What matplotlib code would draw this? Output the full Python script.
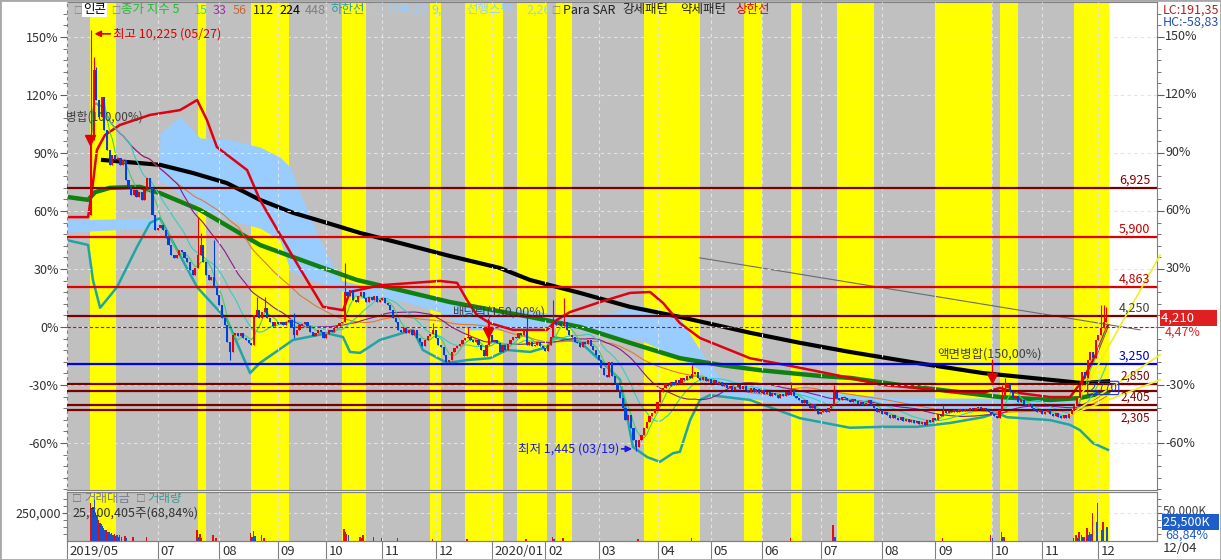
import matplotlib
matplotlib.use('Agg')
import matplotlib.pyplot as plt
import matplotlib.transforms as mtransforms
from matplotlib.patches import Rectangle
import numpy as np
import pandas as pd

plt.rcParams['font.family'] = ['Noto Sans CJK KR', 'DejaVu Sans']
plt.rcParams['axes.unicode_minus'] = False

# price that sits at 0% on the axis
BASE = 4030

# daily closes (won), trading-day index 9 .. 389
first_idx = 9
first_open = 6360
close = [
    7930, 9390, 8760, 8410, 8820, 8140, 7720, 7410, 7620, 7510,
    7550, 7410, 7510, 7100, 6950, 6780, 6890, 6740, 6840, 6680,
    6890, 7140, 6930, 6360, 6050, 6090, 6160, 6050, 5890, 5740,
    5530, 5470, 5530, 5630, 5590, 5470, 5390, 5220, 5110, 5260,
    5530, 5740, 5390, 5110, 5010, 5070, 4880, 4700, 4490, 4220,
    4070, 3720, 3510, 3860, 3900, 3840, 3900, 3800, 3760, 3700,
    3660, 4280, 4390, 4220, 4340, 4430, 4220, 4140, 4050, 4140,
    4090, 4140, 4070, 4140, 4180, 4030, 3860, 3970, 4070, 4090,
    4140, 4050, 3930, 3840, 3900, 3970, 3930, 3800, 3880, 3970,
    3930, 4010, 4050, 4110, 4140, 4760, 4680, 4800, 4590, 4550,
    4680, 4760, 4640, 4550, 4660, 4590, 4680, 4550, 4590, 4640,
    4530, 4490, 4390, 4220, 4140, 3970, 3930, 4010, 3900, 3970,
    3860, 3970, 3800, 3720, 3640, 3760, 3840, 3880, 3970, 3800,
    3660, 3620, 3450, 3300, 3340, 3510, 3590, 3640, 3680, 3760,
    3800, 3820, 3760, 3720, 3760, 3660, 3550, 3430, 3660, 3860,
    3720, 3760, 3700, 3510, 3660, 3550, 3680, 3760, 3820, 3800,
    3900, 3860, 3950, 3660, 3720, 3640, 3660, 3720, 3640, 3590,
    3530, 3660, 3820, 4140, 4070, 4110, 4050, 4140, 3970, 3860,
    3820, 3720, 3700, 3620, 3720, 3680, 3760, 3640, 3550, 3450,
    3340, 3180, 3030, 2990, 3300, 3010, 2870, 2720, 2550, 2340,
    2090, 2200, 1930, 1680, 1530, 1680, 1780, 1930, 2050, 2180,
    2240, 2300, 2470, 2680, 2760, 2840, 2800, 2880, 2820, 2930,
    2840, 2970, 2930, 3010, 2970, 3050, 3090, 2970, 2930, 2990,
    2900, 2950, 2870, 2930, 2840, 2880, 2800, 2840, 2760, 2800,
    2720, 2780, 2820, 2740, 2800, 2720, 2680, 2760, 2680, 2740,
    2660, 2720, 2640, 2680, 2590, 2660, 2620, 2550, 2640, 2590,
    2680, 2620, 2720, 2590, 2550, 2510, 2450, 2510, 2400, 2340,
    2430, 2300, 2220, 2260, 2300, 2260, 2340, 2400, 2680, 2550,
    2510, 2570, 2550, 2510, 2470, 2530, 2490, 2430, 2470, 2400,
    2450, 2510, 2400, 2340, 2260, 2300, 2220, 2260, 2200, 2140,
    2200, 2140, 2090, 2160, 2080, 2120, 2050, 2090, 2030, 2080,
    2010, 2050, 1990, 2090, 2050, 2140, 2090, 2220, 2180, 2280,
    2240, 2280, 2260, 2300, 2260, 2320, 2280, 2320, 2300, 2340,
    2300, 2340, 2360, 2320, 2340, 2300, 2260, 2220, 2180, 2140,
    2300, 2610, 2760, 2840, 2680, 2550, 2590, 2470, 2510, 2430,
    2390, 2430, 2340, 2300, 2260, 2300, 2220, 2260, 2300, 2220,
    2180, 2240, 2160, 2140, 2200, 2140, 2220, 2300, 2400, 2550,
    2820, 3090, 2970, 3340, 3510, 3390, 3760, 3860, 4010, 4140, 4210,
]
# notable wicks
wick_high = {9: 10225, 10: 9660, 11: 9450, 49: 6320, 50: 5990, 55: 5840, 71: 4650,
             74: 4650, 85: 4320, 104: 5360, 137: 4110, 150: 4030, 158: 4180, 172: 4240,
             182: 4590, 186: 4630, 234: 3240, 271: 2880, 287: 2820, 328: 2400,
             350: 2820, 351: 2970, 387: 4490, 388: 4490, 389: 4450}
wick_low = {61: 3340, 213: 1445, 85: 3800}

# indicator lines (trading-day index, won)
upper_x = [0, 7.9, 9.4, 11.2, 14.2, 19.8, 31.1, 42.3, 48.7, 52.4, 56.1, 67.4, 72.2, 84.6, 95.8,
           103.3, 105.9, 117.1, 139.6, 146, 149.7, 153.4, 158.3, 166.9, 179.6, 183.4, 188.2,
           199.5, 210.7, 218.2, 223.1, 229.4, 236.9, 255.6, 274.3, 293, 305.4, 318.1, 330.5,
           342.8, 349.2, 355.5, 367.9, 375.4, 380.2, 385.4, 389.6]
upper_y = [6320, 6320, 6890, 7720, 8030, 8240, 8450, 8550, 8760, 8340, 7780, 7300, 6680, 5490,
           4450, 4380, 4760, 4900, 4990, 4950, 4590, 4280, 4110, 3970, 3970, 4180, 4340, 4550,
           4740, 4760, 4530, 4110, 3800, 3380, 3180, 2970, 2820, 2760, 2680, 2660, 2760, 2660,
           2570, 2570, 2930, 3490, 4070]
lower_x = [0, 7.9, 9.7, 12.4, 18.7, 26.2, 31.1, 34.8, 48.7, 59.9, 68.5, 72.2, 84.6, 97.3, 103.3,
           105.9, 109.7, 117.1, 129.5, 133.2, 142.2, 149.7, 158.3, 164.7, 173.3, 179.6, 181.9,
           192, 202.1, 207, 211.8, 217.1, 221.9, 226.8, 229.4, 233.2, 236.9, 240.6, 255.6,
           274.3, 293, 305.4, 318.1, 330.5, 342.8, 348, 351.8, 367.9, 375.4, 379.1, 384, 389.6]
lower_y = [5840, 5740, 5010, 4430, 4860, 5700, 6200, 6300, 4860, 4180, 3070, 3280, 3760, 3900,
           3820, 3510, 3490, 3760, 3970, 3550, 3280, 3340, 3380, 3550, 3510, 3610, 3820, 3720,
           3200, 2930, 1530, 1320, 1220, 1400, 1430, 2090, 2510, 2610, 2510, 2130, 1930, 1950,
           1950, 2030, 2150, 2240, 2150, 2090, 1990, 1880, 1610, 1470]
long_ma_x = [13.5, 34.8, 47.1, 59.8, 72.2, 84.6, 97.3, 109.7, 124.6, 143.3, 162, 173.3, 192,
             210.7, 229.4, 255.6, 274.3, 293, 318.1, 342.8, 367.9, 380.2, 389.6]
long_ma_y = [7510, 7410, 7240, 7030, 6680, 6410, 6200, 5990, 5780, 5510, 5260, 5010, 4740,
             4450, 4240, 3910, 3700, 3510, 3280, 3070, 2930, 2860, 2900]
mid_ma_x = [0, 7.9, 10.5, 16.1, 27.3, 34.8, 49.8, 72.2, 90.9, 108.5, 124.6, 143.3, 173.3, 192,
            210.7, 229.4, 244.4, 259.4, 281.8, 293, 311.8, 326.7, 349.2, 367.9, 379.1, 389.6]
mid_ma_y = [6740, 6680, 6840, 6930, 6950, 6820, 6470, 5740, 5360, 5010, 4800, 4550, 4240, 4030,
            3700, 3380, 3240, 3130, 3010, 2970, 2820, 2720, 2570, 2510, 2550, 2680]
cloud_x = [0, 31.1, 34.1, 34.8, 42.3, 49.8, 61, 72.2, 79.7, 83.5, 87.2, 94.7, 102.2, 109.7,
           124.6, 139.6, 150.8, 173.3, 184.5, 199.5, 214.4, 229.4, 236.9, 244.4, 259.4, 281.8,
           311.8, 349.2, 379.1]
cloud_top = [6260, 6300, 6300, 8070, 8410, 7970, 7930, 7780, 7570, 7360, 6820, 5840, 5010, 4910,
             4840, 4590, 4450, 4380, 4280, 4280, 4490, 4220, 3550, 2970, 2820, 2680, 2550,
             2550, 2510]
cloud_bot = [6010, 6090, 6090, 7090, 6780, 6530, 6260, 6090, 5840, 5220, 5110, 4950, 4800, 4630,
             4590, 4340, 3970, 3970, 4070, 3860, 3760, 3380, 3130, 2610, 2510, 2340, 2300,
             2300, 2340]

# support / resistance levels
levels = [6925, 5900, 4863, 4250, 3250, 2850, 2700, 2405, 2305]
level_labels = ['6,925', '5,900', '4,863', '4,250', '3,250', '2,850', '', '2,405', '2,305']
level_colors = ['#7a0000', '#e00000', '#e00000', '#7a0000', '#0000ee', '#7a0000', '#7a0000',
                '#7a0000', '#7a0000']
label_colors = ['#800000', '#c00000', '#c00000', '#404040', '#0000c0', '#800000', '#800000',
                '#800000', '#800000']

# highlighted periods (index ranges)
spans = [(8.5, 18.5), (49, 52), (69, 83), (103, 112), (136, 140), (149, 163), (168.5, 179.5),
         (183, 189), (216, 237), (253.5, 260), (271, 275), (288, 302), (325, 346), (349, 356),
         (377, 390)]

# volume: trade value (left scale) and shares in K (right scale)
value_vol = {9: 340000, 10: 300000, 11: 250000, 12: 190000, 13: 150000, 14: 120000,
             15: 100000, 16: 80000, 17: 70000, 18: 60000, 19: 55000, 20: 50000, 22: 45000,
             25: 40000, 30: 35000, 49: 100000, 50: 60000, 55: 50000, 56: 30000, 69: 70000,
             70: 85000, 73: 50000, 74: 30000, 104: 110000, 105: 60000, 110: 40000, 111: 50000,
             115: 35000, 118: 30000, 124: 25000, 137: 20000, 150: 18000, 172: 20000,
             182: 35000, 186: 30000, 214: 20000, 234: 25000, 271: 30000, 287: 143000,
             288: 40000, 328: 30000, 346: 54000, 350: 80000, 351: 40000, 377: 30000,
             378: 54000, 379: 80000, 380: 54000, 381: 40000, 382: 116000, 383: 80000,
             384: 250000, 386: 339000, 388: 170000}
share_vol = {9: 56000, 10: 73000, 11: 46000, 12: 32000, 13: 26000, 14: 20000, 15: 16000,
             16: 12000, 17: 11000, 18: 9000, 19: 8000, 20: 7000, 22: 6000, 49: 8000,
             50: 6000, 69: 8000, 70: 9000, 104: 16000, 105: 10000, 110: 6000, 182: 4000,
             287: 8000, 346: 6000, 350: 8000, 378: 6000, 380: 8000, 382: 10000, 383: 12000,
             385: 34000, 387: 19600, 389: 25500}

month_idx = [0, 34, 57, 79, 97, 118, 138, 159, 179, 199, 221, 241, 260, 282, 305, 325, 346,
             365, 386]
month_labels = ['2019/05', '07', '08', '09', '10', '11', '12', '2020/01', '02', '03', '04',
                '05', '06', '07', '08', '09', '10', '11', '12']
pct_ticks = [150, 120, 90, 60, 30, 0, -30, -60]

W, H = 1221, 560
fig = plt.figure(figsize=(W / 100, H / 100), dpi=100)
L, R = 67 / W, 1157 / W
ax = fig.add_axes([L, 1 - 490 / H, R - L, 488 / H])
axv = fig.add_axes([L, 1 - 541 / H, R - L, 49 / H], sharex=ax)

GRAY, YEL = '#c0c0c0', '#ffff00'
idx = np.arange(first_idx, first_idx + len(close))
last = idx[-1] + 0.5
for a in (ax, axv):
    a.set_facecolor('white')
    a.axvspan(-1, last, color=GRAY, lw=0, zorder=0)
    for s0, s1 in spans:
        a.axvspan(s0, s1, color=YEL, lw=0, zorder=0.1)
    for sp in a.spines.values():
        sp.set_color('#808080')
ax.set_xlim(0, (1157 - 67) / 2.672)

# --- price panel ---
ax.fill_between(cloud_x, cloud_bot, cloud_top, color='#99ccff', lw=0, zorder=1)
ax.plot(mid_ma_x, mid_ma_y, color='#108010', lw=3.2, zorder=2)
ax.plot(long_ma_x, long_ma_y, color='black', lw=3, zorder=2)
ax.plot(upper_x, upper_y, color='#e00010', lw=1.8, zorder=2.2)
ax.plot(lower_x, lower_y, color='#1fa5a5', lw=1.8, zorder=2.2)

s = pd.Series(close, index=idx, dtype=float)
for n, col in [(56, '#e07a30'), (33, '#8a1a8a'), (15, '#30d0c0'), (5, '#40d060')]:
    ax.plot(idx, s.rolling(n, min_periods=1).mean(), color=col, lw=0.8, zorder=2.5)

for lv, col in zip(levels, level_colors):
    ax.axhline(lv, color=col, lw=1.6, zorder=2.6)
ax.axhline(BASE, color='#e00000', lw=0.8, ls=(0, (3, 2)), zorder=2.6)
for lv, lab, col in zip(levels, level_labels, label_colors):
    if not lab:
        continue
    if lab == '2,305':
        ax.annotate(lab, (405.5, lv), xytext=(0, -1), textcoords='offset points',
                    ha='right', va='top', color=col, fontsize=8.5, zorder=6)
    else:
        ax.annotate(lab, (405.5, lv), xytext=(0, 1), textcoords='offset points',
                    ha='right', va='bottom', color=col, fontsize=8.5 if lv < 3000 else 9,
                    zorder=6)
ax.annotate('2,770', (393, 2760), ha='right', va='center', color='#2030d0', fontsize=8,
            zorder=6, bbox=dict(boxstyle='round,pad=0.15', fc='none', ec='#2030d0', lw=0.8))

# trend and fan lines
ax.plot([236.9, 401.6], [5470, 3970], color='#6a6a6a', lw=0.8, zorder=2.4)
for end in [5530, 3450, 2930]:
    ax.plot([375.4, 409.1], [2200, end], color='#f0f020', lw=1.2, zorder=2.7, clip_on=False)

# candles
opens = np.array([first_open] + close[:-1], dtype=float)
closes = np.array(close, dtype=float)
up = closes >= opens
cols = np.where(up, '#f00000', '#0040e0')
highs = np.maximum(opens, closes)
lows = np.minimum(opens, closes)
for k, v in wick_high.items():
    highs[k - first_idx] = v
for k, v in wick_low.items():
    lows[k - first_idx] = v
ax.vlines(idx, lows, highs, colors=cols, lw=0.8, zorder=4)
body = np.maximum(np.abs(closes - opens), 25)
ax.bar(idx, body, bottom=np.minimum(opens, closes), width=0.8, color=cols, lw=0, zorder=4)

# event markers
ax.annotate('최고 10,225 (05/27)', xy=(10.3, 10140), xytext=(17.3, 10140), color='#e00000',
            va='center', ha='left', fontsize=9, zorder=7,
            arrowprops=dict(arrowstyle='-|>', color='#e00000', lw=1.2, shrinkA=0, shrinkB=0,
                            mutation_scale=9))
ax.annotate('최저 1,445 (03/19)', xy=(211.5, 1490), xytext=(206.5, 1490), color='#1a1ae0',
            va='center', ha='right', fontsize=9, zorder=7,
            arrowprops=dict(arrowstyle='-|>', color='#1a1ae0', lw=1.2, shrinkA=0, shrinkB=0,
                            mutation_scale=9))
ax.text(28.5, 8406, '액면병합(100,00%)', ha='right', va='center', color='#404040',
        fontsize=8.5, clip_on=True, zorder=7)
ax.plot([8.6], [7927], marker='v', color='#e00000', ms=7, zorder=7)
ax.text(162, 4343, '배당락(150,00%)', ha='center', va='center', color='#404040', fontsize=9,
        zorder=7)
ax.plot([157.6, 157.6], [4200, 3905], color='#e00000', lw=1, zorder=7)
ax.plot([157.6], [3905], marker='v', color='#e00000', ms=7, zorder=7)
ax.text(345.4, 3467, '액면병합(150,00%)', ha='center', va='center', color='#404040', fontsize=9,
        zorder=7)
ax.plot([346.2, 346.2], [3340, 2967], color='#e00000', lw=1, zorder=7)
ax.plot([346.2], [2967], marker='v', color='#e00000', ms=7, zorder=7)

# y axis in percent of BASE
ax.set_ylim(BASE - 20.84 * 163, BASE + 20.84 * 325)
ticks = [BASE * (1 + p / 100) for p in pct_ticks]
ax.set_yticks(ticks)
ax.set_yticklabels([f'{p}%' for p in pct_ticks])
ax.set_yticks([BASE * (1 + p / 100) for p in range(-84, 168, 6)], minor=True)
ax.tick_params(axis='y', which='both', left=True, right=True, labelleft=True,
               labelright=False, colors='#606060', labelcolor='#303030', labelsize=9,
               direction='out', pad=1)
ax.tick_params(axis='y', which='major', length=5)
ax.tick_params(axis='y', which='minor', length=3)
ax.set_xticks(month_idx)
ax.tick_params(axis='x', length=0, labelbottom=False)
ax.grid(True, color='#e4e4e4', ls=(0, (3, 3)), lw=0.8, zorder=0.5)
ax.set_axisbelow(False)
for p, t in zip(pct_ticks, ticks):
    if p != 0:
        ax.annotate(f'{p}%', (1, t), xycoords=('axes fraction', 'data'), xytext=(6, 0),
                    textcoords='offset points', va='center', ha='left', fontsize=9,
                    color='#303030', annotation_clip=False)
bl = mtransforms.blended_transform_factory(ax.transAxes, ax.transData)
ax.text(1.004, 4225, '4,210       ', transform=bl, color='white', fontsize=9.5, va='center',
        ha='left', bbox=dict(fc='#e02020', ec='none', pad=1.0), clip_on=False, zorder=8)
ax.text(1.007, 3930, '4,47%', transform=bl, color='#e02020', fontsize=9, va='center',
        ha='left', clip_on=False)

# --- volume panel ---
vx = np.array(list(value_vol.keys()))
axv.bar(vx - 0.3, list(value_vol.values()), width=0.55, color='#e01010', lw=0, zorder=3)
axv.set_ylim(0, 437500)
axv2 = axv.twinx()
sx = np.array(list(share_vol.keys()))
axv2.bar(sx + 0.3, list(share_vol.values()), width=0.55, color='#1a50d0', lw=0, zorder=3)
axv2.set_ylim(0, 87500)
axv2.set_yticks([])
for sp in axv2.spines.values():
    sp.set_color('#808080')
axv.set_yticks([250000])
axv.set_yticklabels(['250,000'])
axv.set_yticks(np.arange(62500, 437500, 62500), minor=True)
axv.tick_params(axis='y', which='both', colors='#606060', labelcolor='#303030', labelsize=9,
                pad=1, right=True)
axv.tick_params(axis='y', which='minor', length=3)
axv.grid(True, axis='y', color='#e4e4e4', ls=(0, (3, 3)), lw=0.8, zorder=0.5)
axv.grid(True, axis='x', color='#e4e4e4', ls=(0, (3, 3)), lw=0.8, zorder=0.5)
axv.set_xticks(month_idx)
axv.tick_params(axis='x', length=14, color='#808080', labelbottom=False)
for m, lab in zip(month_idx, month_labels):
    axv.annotate(lab, (m, 0), xycoords=('data', 'axes fraction'), xytext=(2, -3),
                 textcoords='offset points', ha='left', va='top', fontsize=9.5,
                 color='#303030', annotation_clip=False)

axv.text(0.005, 0.86, '□ ', transform=axv.transAxes, fontsize=7, color='#707070', va='center')
axv.text(0.016, 0.86, '거래대금', transform=axv.transAxes, fontsize=9, color='#7a7a9a',
         va='center')
axv.text(0.063, 0.86, '□ ', transform=axv.transAxes, fontsize=7, color='#707070', va='center')
axv.text(0.074, 0.86, '거래량', transform=axv.transAxes, fontsize=9, color='#3a9a9a',
         va='center')
axv.text(0.005, 0.57, '25,500,405주(68,84%)', transform=axv.transAxes, fontsize=9,
         color='#303030', va='center')
fig.text(1163 / W, 1 - 511 / H, '50,000K', fontsize=8.5, color='#404040', va='center')
fig.text(1163 / W, 1 - 522 / H, '25,500K   ', fontsize=9, color='white', va='center',
         bbox=dict(fc='#1e5ec8', ec='none', pad=0.8))
fig.text(1165 / W, 1 - 535 / H, '68,84%', fontsize=9, color='#1e5ec8', va='center')
fig.text(1163 / W, 1 - 549 / H, '12/04', fontsize=9.5, color='#303030', va='center')

# --- header legend ---
legend_items = [('□', 73, '#808080', 6.5), ('인콘', 83, 'black', 9), ('□', 111, '#808080', 6.5),
                ('종가 지수 5', 121, '#22bb33', 9), ('15', 194, '#33cccc', 9),
                ('33', 213, '#993399', 9), ('56', 233, '#cc6633', 9), ('112', 253, '#202020', 9),
                ('224', 279, 'black', 9), ('448', 305, '#808080', 9),
                ('하한선', 330, '#2a9aaa', 9), ('□ 일목 26', 372, '#99ccff', 9),
                ('9,', 431, '#99ccff', 9), ('선행스팬', 466, '#99ccff', 9),
                ('2,26', 526, '#99ccff', 9), ('□', 551, '#808080', 6.5),
                ('Para SAR', 563, '#202020', 9), ('강세패턴', 622, '#202020', 9),
                ('약세패턴', 680, '#202020', 9), ('상한선', 735, '#e00000', 9)]
for txt, px, col, fs in legend_items:
    kw = {}
    if txt == '인콘':
        kw['bbox'] = dict(fc='white', ec='none', pad=0.5)
    fig.text(px / W, 1 - 10 / H, txt, color=col, fontsize=fs, va='center', ha='left', **kw)

fig.text(1163 / W, 1 - 10 / H, 'LC:191,35', color='#b02020', fontsize=9, va='center')
fig.text(1163 / W, 1 - 22 / H, 'HC:-58,83', color='#2050b0', fontsize=9, va='center')
fig.patches.append(Rectangle((0, 0), 1, 1, transform=fig.transFigure, fill=False,
                             ec='#a8a8a8', lw=2))

fig.savefig('out.png', dpi=100)
